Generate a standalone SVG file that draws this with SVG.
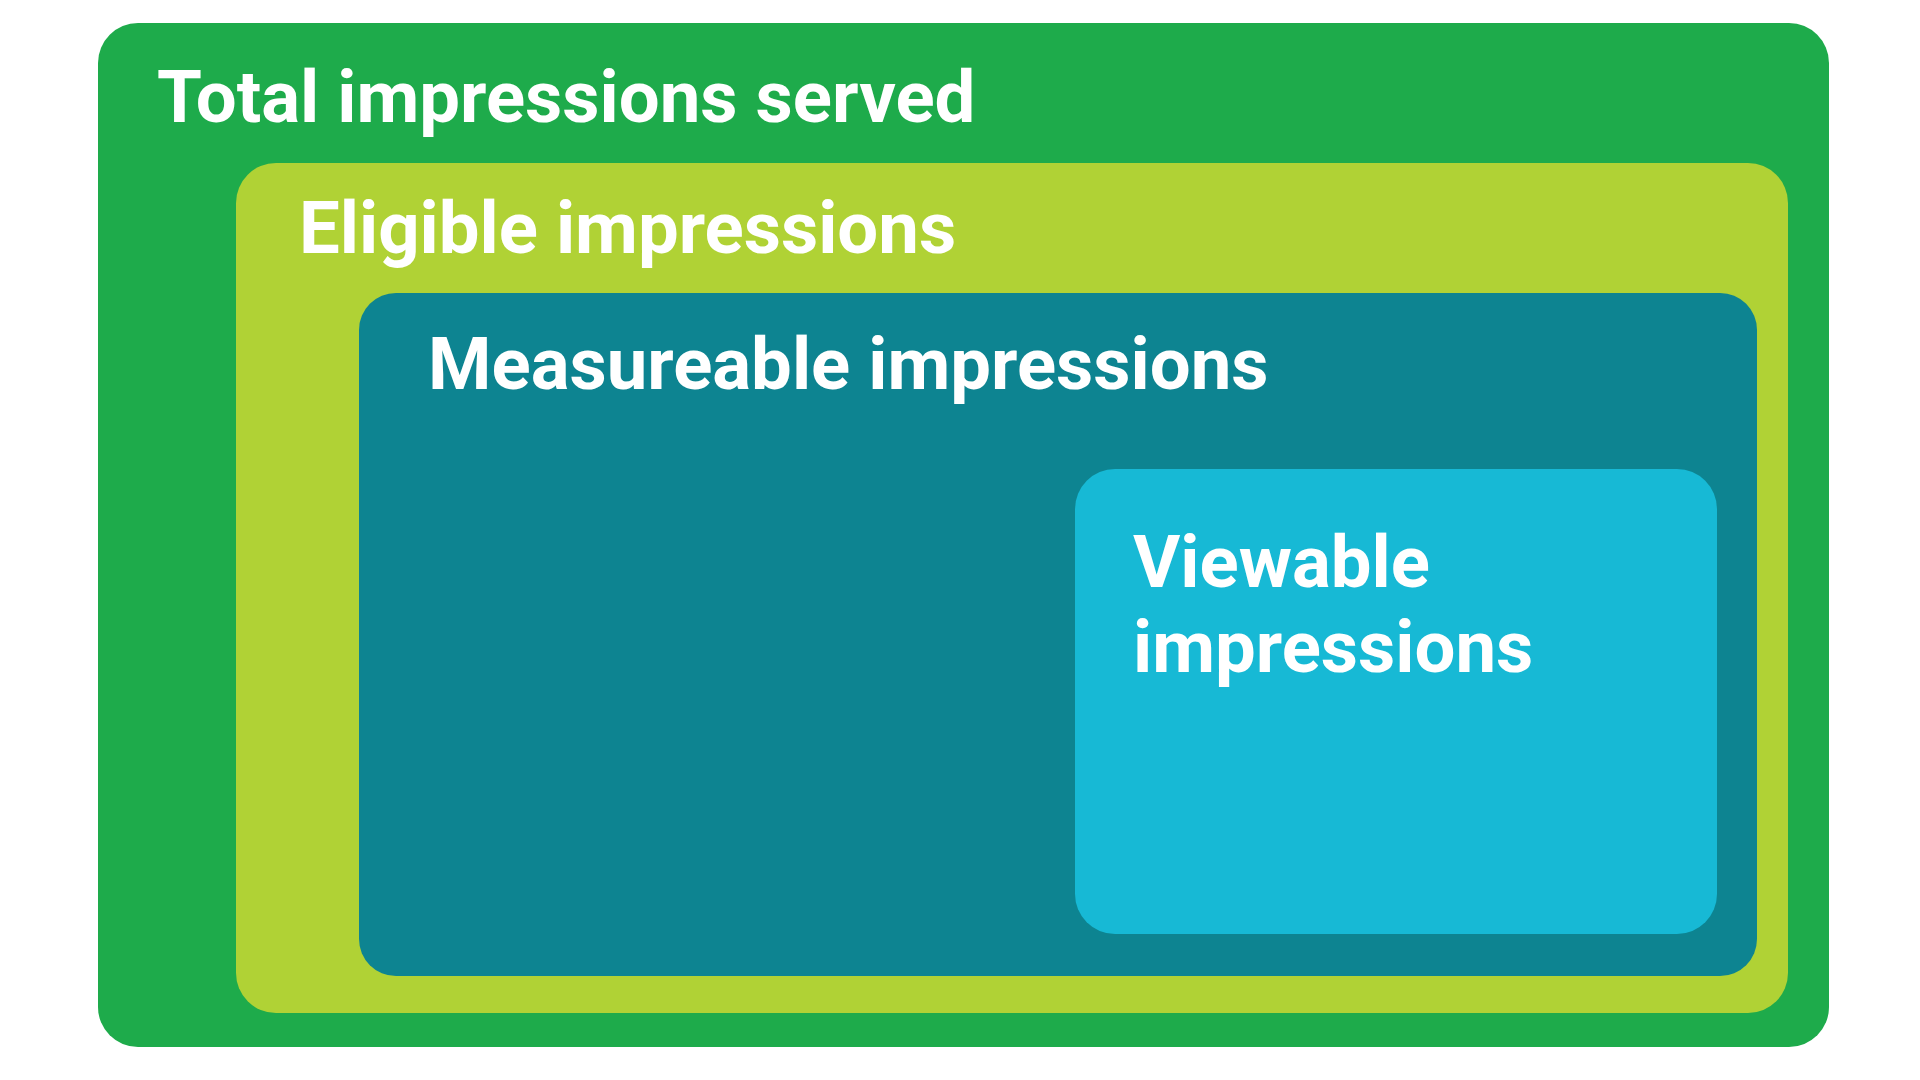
<svg xmlns="http://www.w3.org/2000/svg" width="1920" height="1080" viewBox="0 0 1920 1080">
  <style>
    .lbl { font-family: Roboto, "Liberation Sans", sans-serif; font-weight: 700; font-size: 72.5px; fill: #ffffff; }
  </style>
  <rect x="0" y="0" width="1920" height="1080" fill="#ffffff"/>
  <g id="total">
    <rect x="98" y="23" width="1731" height="1024" rx="40" ry="40" fill="#1EAB4B"/>
    <text class="lbl" x="157" y="122">Total impressions served</text>
  </g>
  <g id="eligible">
    <rect x="236" y="163" width="1552" height="850" rx="40" ry="40" fill="#B0D235"/>
    <text class="lbl" x="299" y="253">Eligible impressions</text>
  </g>
  <g id="measureable">
    <rect x="359" y="293" width="1398" height="683" rx="37" ry="37" fill="#0D8491"/>
    <text class="lbl" x="428" y="389">Measureable impressions</text>
  </g>
  <g id="viewable">
    <rect x="1075" y="469" width="642" height="465" rx="40" ry="40" fill="#17B9D5"/>
    <text class="lbl" x="1133" y="587">Viewable</text>
    <text class="lbl" x="1133" y="672">impressions</text>
  </g>
  <g id="connectors"/>
</svg>
